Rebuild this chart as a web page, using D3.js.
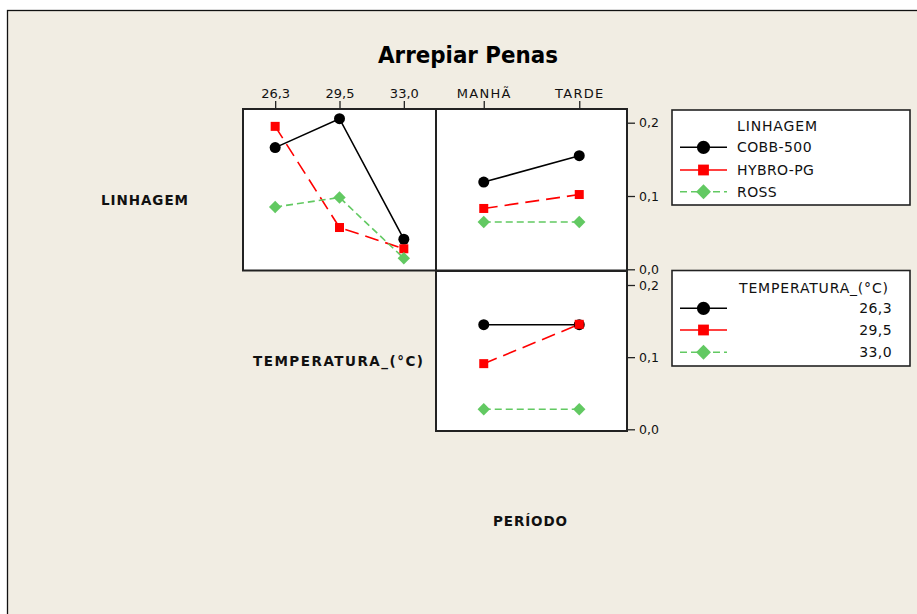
<!DOCTYPE html>
<html><head><meta charset="utf-8">
<script src="https://cdn.jsdelivr.net/npm/d3@7"></script>
<style>html,body{margin:0;padding:0;background:#fff;}svg{display:block;}</style>
</head><body>
<svg id="c" width="917" height="614"></svg>
<script>
// ---- data ----
const linhagens = ["COBB-500", "HYBRO-PG", "ROSS"];
const temperaturas = ["26,3", "29,5", "33,0"];
const periodos = ["MANHÃ", "TARDE"];
const yTicks = [0, 0.1, 0.2];
// LINHAGEM (rows) x TEMPERATURA (columns)
const cobbByTemp  = [0.166, 0.2055, 0.041];
const hybroByTemp = [0.195, 0.057, 0.028];
const rossByTemp  = [0.085, 0.098, 0.015];
// LINHAGEM x PERÍODO
const cobbByPer  = [0.119, 0.155];
const hybroByPer = [0.083, 0.102];
const rossByPer  = [0.0645, 0.0645];
// TEMPERATURA x PERÍODO
const t263ByPer = [0.145, 0.145];
const t295ByPer = [0.091, 0.1455];
const t330ByPer = [0.0277, 0.0277];

// ---- styles ----
const styles = [
  {color: "#000000", dash: null, shape: "circle"},
  {color: "#ff0000", dash: "14,7", shape: "square"},
  {color: "#62c962", dash: "7,4", shape: "diamond"}
];
const FONT = "'DejaVu Sans', Verdana, sans-serif";

const svg = d3.select("#c");
svg.append("rect").attr("x", 7.5).attr("y", 10.5).attr("width", 930).attr("height", 620)
  .attr("fill", "#f1ede3").attr("stroke", "#111").attr("stroke-width", 1.3);

// Panel geometry
const P = {
  tl: {x0: 243, x1: 436, y0: 109, y1: 270.5},
  tr: {x0: 436, x1: 627, y0: 109, y1: 270.5},
  br: {x0: 436, x1: 627, y0: 271, y1: 431}
};
const xTemp = d3.scalePoint().domain(temperaturas).range([P.tl.x0, P.tl.x1]).padding(0.5);
const xPer = d3.scalePoint().domain(periodos).range([P.tr.x0, P.tr.x1]).padding(0.5);
const yTop = d3.scaleLinear().domain([0, 0.2]).range([269.3, 122.7]);
const yBot = d3.scaleLinear().domain([0, 0.2]).range([429.3, 285]);

// panel backgrounds
Object.values(P).forEach(p => {
  svg.append("rect").attr("x", p.x0).attr("y", p.y0).attr("width", p.x1 - p.x0).attr("height", p.y1 - p.y0)
    .attr("fill", "#fff");
});

function marker(g, shape, x, y, color, s) {
  if (shape === "circle") {
    g.append("circle").attr("cx", x).attr("cy", y).attr("r", s * 0.55).attr("fill", color);
  } else if (shape === "square") {
    const h = s * 0.45;
    g.append("rect").attr("x", x - h).attr("y", y - h).attr("width", 2 * h).attr("height", 2 * h).attr("fill", color);
  } else {
    const h = s * 0.62;
    g.append("path").attr("d", `M${x},${y - h}L${x + h},${y}L${x},${y + h}L${x - h},${y}Z`).attr("fill", color);
  }
}

function drawSeries(cats, xs, ys, seriesList) {
  const g = svg.append("g");
  seriesList.forEach((vals, i) => {
    const st = styles[i];
    const line = d3.line().x((d, j) => xs(cats[j])).y(d => ys(d));
    g.append("path").attr("d", line(vals)).attr("fill", "none").attr("stroke", st.color)
      .attr("stroke-width", 1.6).attr("stroke-dasharray", st.dash);
  });
  seriesList.forEach((vals, i) => {
    const st = styles[i];
    vals.forEach((v, j) => marker(g, st.shape, xs(cats[j]), ys(v), st.color, 10));
  });
}

drawSeries(temperaturas, xTemp, yTop, [cobbByTemp, hybroByTemp, rossByTemp]);
drawSeries(periodos, xPer, yTop, [cobbByPer, hybroByPer, rossByPer]);
drawSeries(periodos, xPer, yBot, [t263ByPer, t295ByPer, t330ByPer]);

// panel borders
Object.values(P).forEach(p => {
  svg.append("rect").attr("x", p.x0).attr("y", p.y0).attr("width", p.x1 - p.x0).attr("height", p.y1 - p.y0)
    .attr("fill", "none").attr("stroke", "#222").attr("stroke-width", 2);
});

// top axes (category)
function topAxis(scale, y, spacing) {
  const ax = svg.append("g").attr("transform", `translate(0,${y})`)
    .call(d3.axisTop(scale).tickSize(8).tickSizeOuter(0).tickPadding(3));
  ax.select(".domain").remove();
  ax.selectAll("line").attr("stroke", "#222").attr("stroke-width", 1.3);
  ax.selectAll("text").attr("font-family", FONT).attr("font-size", 13).attr("fill", "#111")
    .attr("letter-spacing", spacing);
}
topAxis(xTemp, P.tl.y0, 0);
topAxis(xPer, P.tr.y0, 1.3);

// right axes
function rightAxis(scale, x) {
  const ax = svg.append("g").attr("transform", `translate(${x},0)`)
    .call(d3.axisRight(scale).tickValues(yTicks).tickFormat(d => d3.format(".1f")(d).replace(".", ","))
      .tickSize(8).tickSizeOuter(0).tickPadding(4));
  ax.select(".domain").remove();
  ax.selectAll("line").attr("stroke", "#222").attr("stroke-width", 1.3);
  ax.selectAll("text").attr("font-family", FONT).attr("font-size", 12.5).attr("fill", "#111");
}
rightAxis(yTop, P.tr.x1);
rightAxis(yBot, P.br.x1);

// title
svg.append("text").attr("x", 468).attr("y", 63).attr("text-anchor", "middle")
  .attr("font-family", FONT).attr("font-weight", "bold").attr("font-size", 23)
  .attr("textLength", 180).attr("lengthAdjust", "spacingAndGlyphs").attr("fill", "#000").text("Arrepiar Penas");

// row/col labels
function boldLabel(txt, x, y, len) {
  svg.append("text").attr("x", x).attr("y", y).attr("font-family", FONT).attr("font-weight", "bold")
    .attr("font-size", 13.5).attr("textLength", len).attr("lengthAdjust", "spacing").attr("fill", "#111").text(txt);
}
boldLabel("LINHAGEM", 101, 205, 87);
boldLabel("TEMPERATURA_(°C)", 253, 365.5, 170);
boldLabel("PERÍODO", 493, 525.5, 74);

// legends
function legend(box, title, titleX, titleY, titleLen, items, rowsY, rightAlign) {
  svg.append("rect").attr("x", box.x).attr("y", box.y).attr("width", box.w).attr("height", box.h)
    .attr("fill", "#fff").attr("stroke", "#222").attr("stroke-width", 1.6);
  svg.append("text").attr("x", titleX).attr("y", titleY + 5).attr("font-family", FONT).attr("font-size", 14)
    .attr("textLength", titleLen).attr("lengthAdjust", "spacing").attr("fill", "#111").text(title);
  items.forEach((it, i) => {
    const st = styles[i], y = rowsY[i];
    const g = svg.append("g");
    g.append("line").attr("x1", 680).attr("x2", 727).attr("y1", y).attr("y2", y)
      .attr("stroke", st.color).attr("stroke-width", 1.6).attr("stroke-dasharray", i === 2 ? "7,4" : null);
    marker(g, st.shape, 703.5, y, st.color, 12);
    svg.append("text").attr("x", rightAlign ? 892 : 737).attr("y", y + 5)
      .attr("text-anchor", rightAlign ? "end" : "start")
      .attr("font-family", FONT).attr("font-size", 14).attr("letter-spacing", 0.4).attr("fill", "#111").text(it);
  });
}
legend({x: 672, y: 110, w: 238, h: 95}, "LINHAGEM", 737, 125.7, 80, linhagens, [147.3, 170, 191.7], false);
legend({x: 672, y: 270.5, w: 238, h: 95.5}, "TEMPERATURA_(°C)", 739, 287.7, 149, temperaturas, [308.3, 330, 352.3], true);
</script>
</body></html>
